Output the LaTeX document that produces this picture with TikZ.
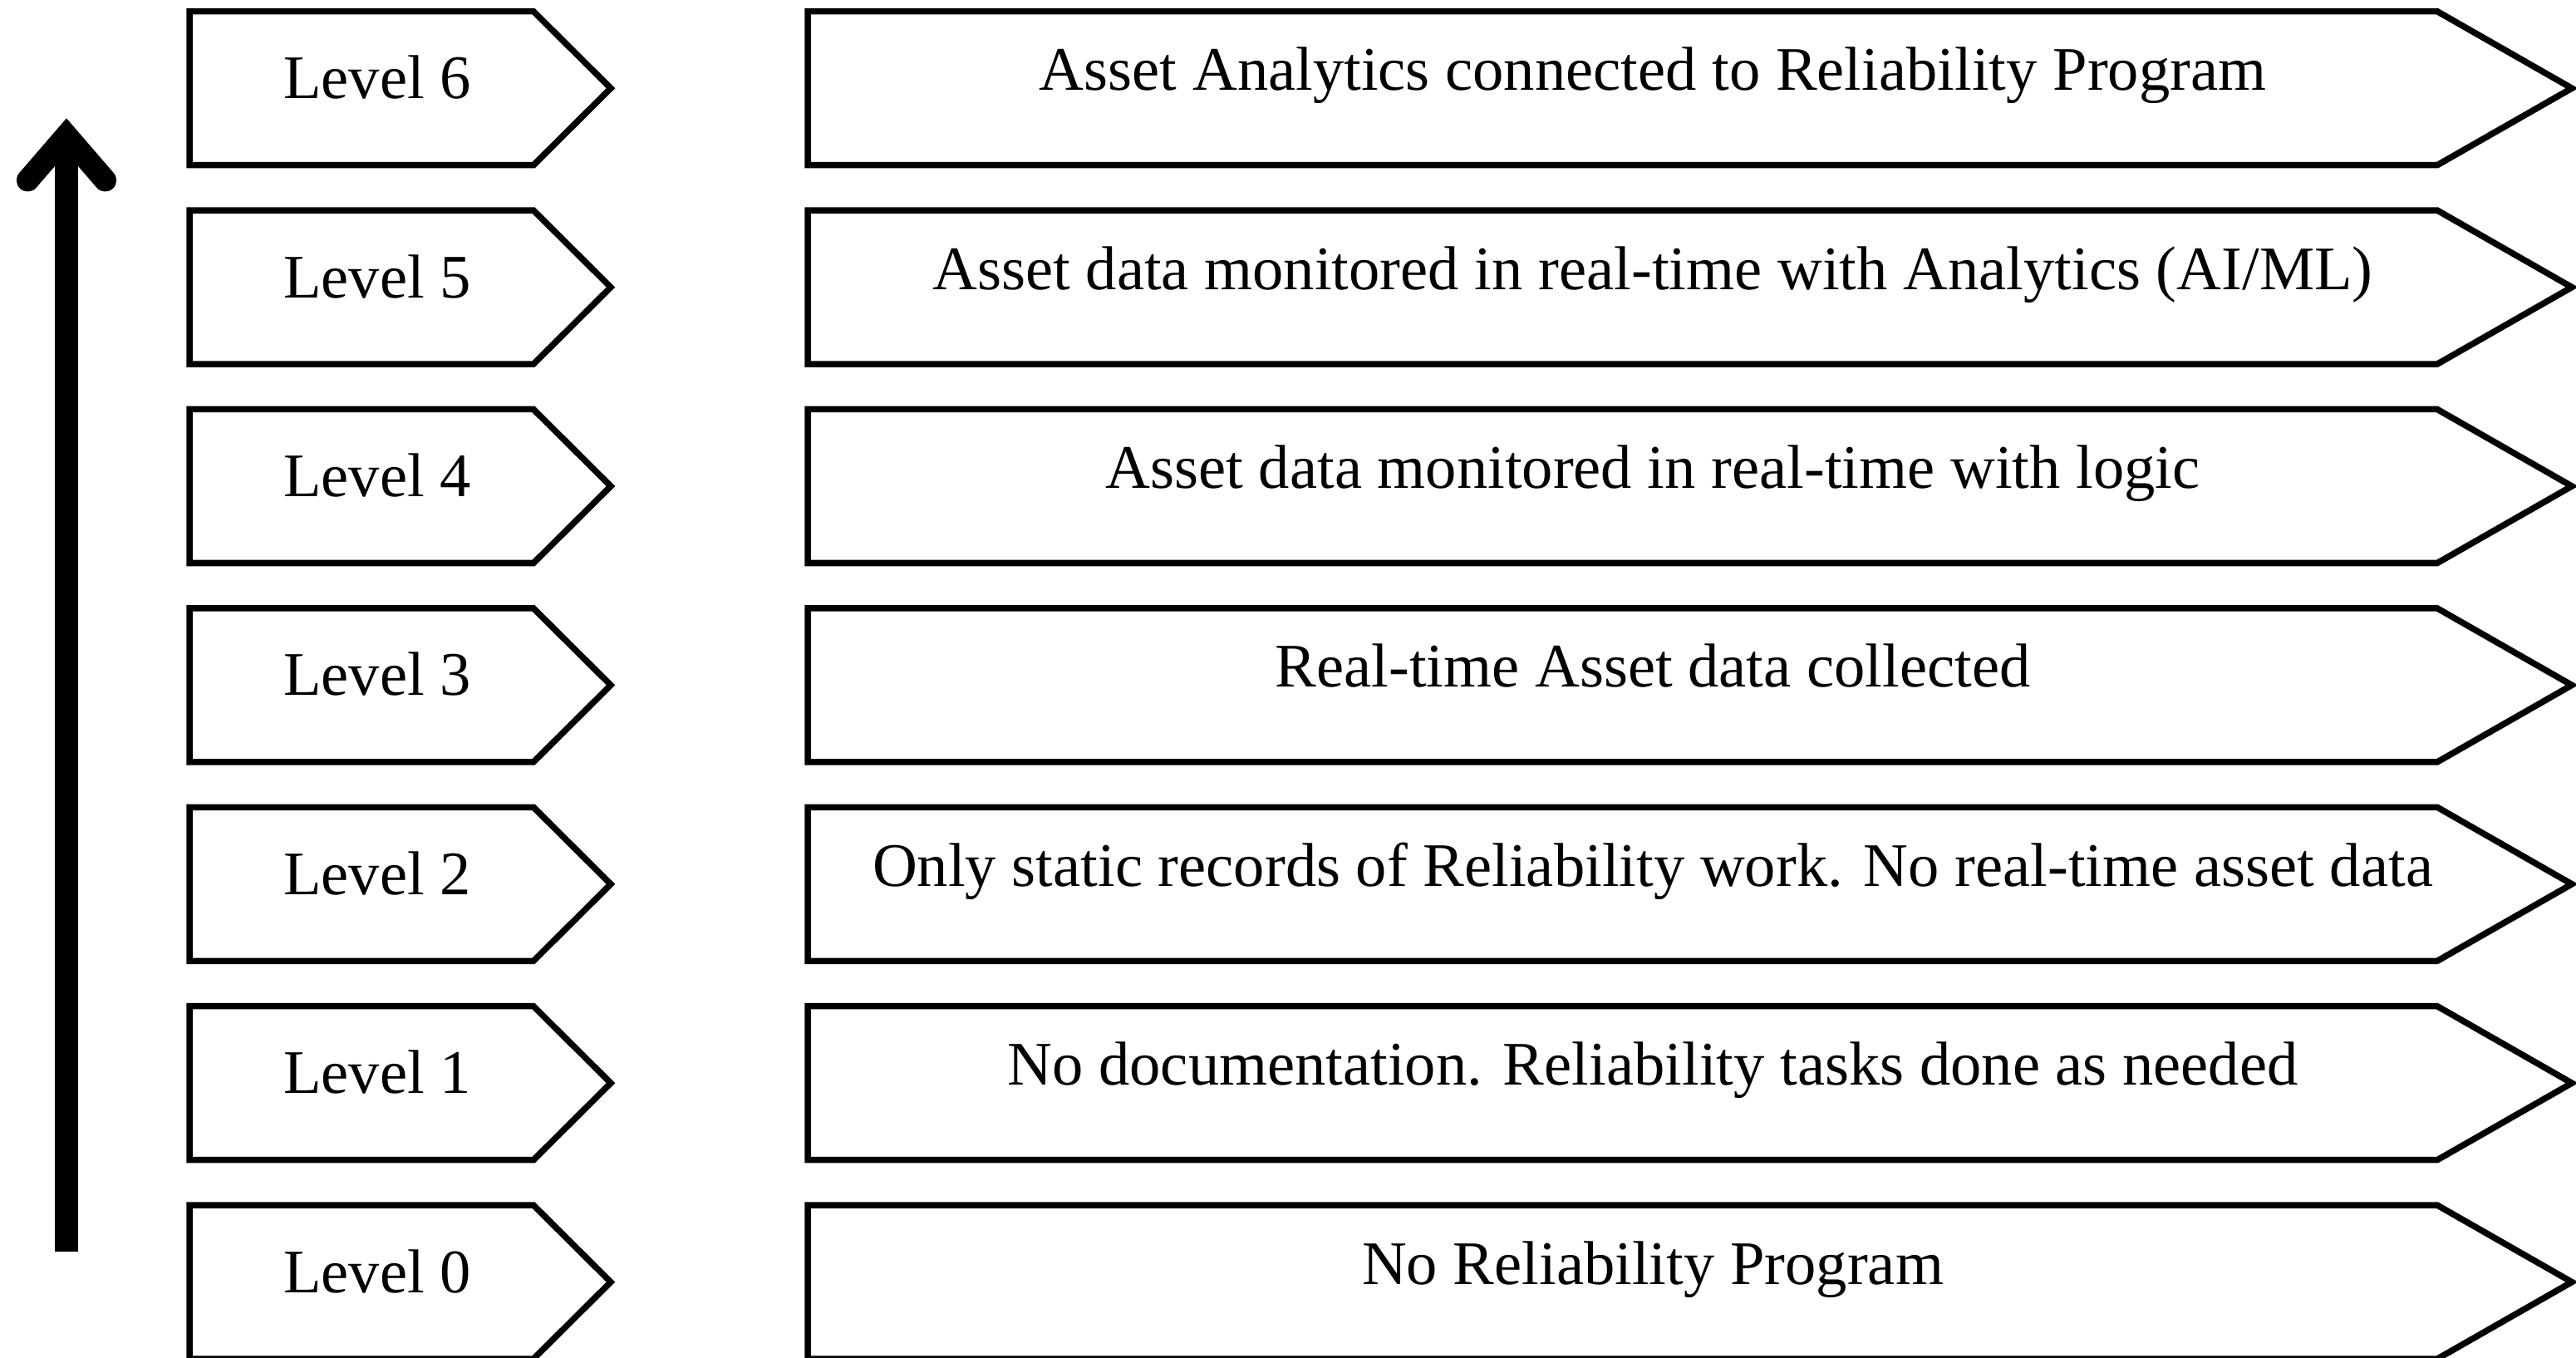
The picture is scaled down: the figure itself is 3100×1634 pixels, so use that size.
\documentclass[tikz,border=0pt]{standalone}
\usepackage{fontspec}
\setmainfont{Liberation Serif}
\begin{document}
\begin{tikzpicture}[x=0.01cm,y=-0.01cm,
  outline/.style={draw=black,line width=0.075cm,line join=miter,miter limit=10,fill=white},
  lbltext/.style={anchor=base,inner sep=0pt,font=\fontsize{21.2pt}{25pt}\selectfont},
  shaft/.style={draw=black,line width=0.27cm},
  head/.style={draw=black,line width=0.27cm,line cap=round,line join=miter,miter limit=10}]
\useasboundingbox (0,0) rectangle (3100,1634);
\clip (0,0) rectangle (3100,1634);

% one row per level: a short tag on the left, a long description tag on the right
\foreach \k/\txt in {
  6/{Asset Analytics connected to Reliability Program},
  5/{Asset data monitored in real-time with Analytics (AI/ML)},
  4/{Asset data monitored in real-time with logic},
  3/{Real-time Asset data collected},
  2/{Only static records of Reliability work. No real-time asset data},
  1/{No documentation. Reliability tasks done as needed},
  0/{No Reliability Program}} {
  \pgfmathsetmacro\ytop{13.7+(6-\k)*239.4}
  \pgfmathsetmacro\ymid{\ytop+92.5}
  \pgfmathsetmacro\ybot{\ytop+185}
  \draw[outline] (228,\ytop) -- (642,\ytop) -- (735,\ymid) -- (642,\ybot) -- (228,\ybot) -- cycle;
  \draw[outline] (972,\ytop) -- (2933,\ytop) -- (3095,\ymid) -- (2933,\ybot) -- (972,\ybot) -- cycle;
  \node[lbltext] (lvl\k) at (454,\ymid+12.5) {Level \k};
  \node[lbltext] (desc\k) at (1989,\ymid+2.5) {\txt};
}

% upward arrow along the left side
\coordinate (tail) at (80,1506);
\coordinate (neck) at (80,180);
\coordinate (apex) at (80,163);
\coordinate (wingL) at (33.4,217);
\coordinate (wingR) at (126.6,217);
\draw[shaft] (tail) -- (neck);
\draw[head] (wingL) -- (apex) -- (wingR);
\end{tikzpicture}
\end{document}
